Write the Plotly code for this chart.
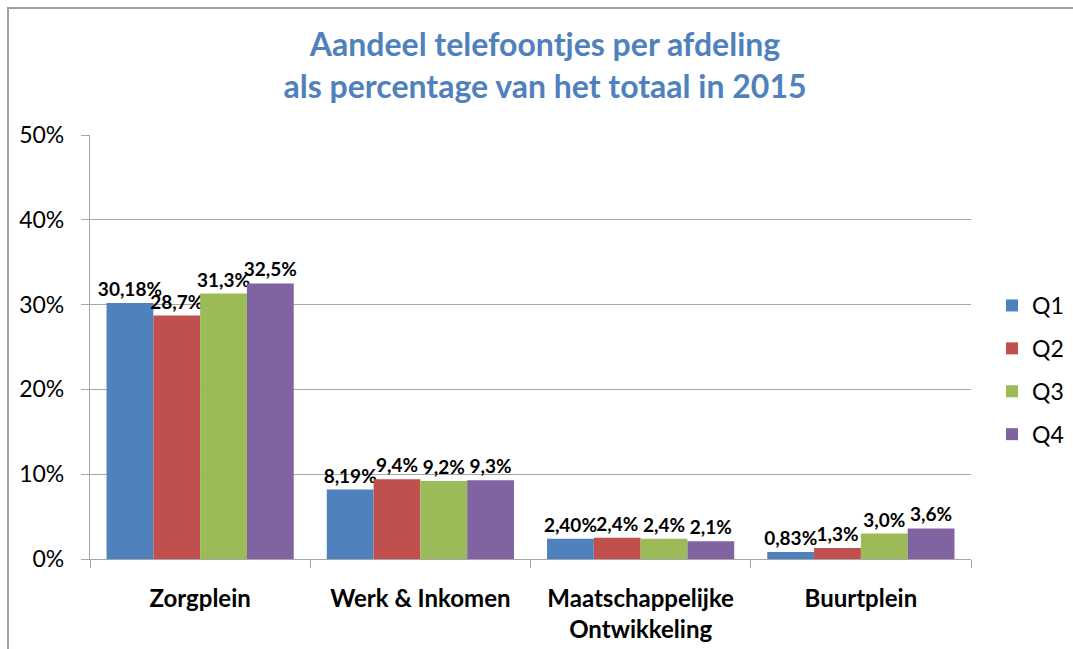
import plotly.graph_objects as go

categories = ["Zorgplein", "Werk & Inkomen", "Maatschappelijke<br>Ontwikkeling", "Buurtplein"]
series_names = ["Q1", "Q2", "Q3", "Q4"]
q1 = [30.18, 8.19, 2.40, 0.83]
q2 = [28.7, 9.4, 2.5, 1.3]
q3 = [31.3, 9.2, 2.4, 3.0]
q4 = [32.5, 9.3, 2.1, 3.6]
q1_labels = ["30,18%", "8,19%", "2,40%", "0,83%"]
q2_labels = ["28,7%", "9,4%", "2,4%", "1,3%"]
q3_labels = ["31,3%", "9,2%", "2,4%", "3,0%"]
q4_labels = ["32,5%", "9,3%", "2,1%", "3,6%"]
y_ticks = [0, 10, 20, 30, 40, 50]
y_tick_labels = ["0%", "10%", "20%", "30%", "40%", "50%"]

colors = ["#4F81BD", "#C0504D", "#9BBB59", "#8064A2"]
values = [q1, q2, q3, q4]
labels = [q1_labels, q2_labels, q3_labels, q4_labels]

FONT = "Lato, 'Open Sans', sans-serif"
W, H = 1073, 649
ML, MR, MT, MB = 90, 102, 135, 90
PW, PH = W - ML - MR, H - MT - MB

fig = go.Figure()
for name, vals, lab, col in zip(series_names, values, labels, colors):
    fig.add_trace(go.Bar(
        name=name, x=categories, y=vals, text=lab,
        textposition="outside", constraintext="none", cliponaxis=False,
        textfont=dict(family=FONT, size=19, color="black", weight="bold"),
        marker=dict(color=col, line=dict(width=0)),
        legendgroup=name,
    ))

# frame around chart (top-left visible, continues beyond right/bottom)
fig.add_shape(type="rect", xref="paper", yref="paper",
              x0=(8 - ML) / PW, x1=(W + 10 - ML) / PW,
              y0=-(MB + 10) / PH, y1=(H - MB - 8) / PH,
              line=dict(color="#A0A0A0", width=2), fillcolor="rgba(0,0,0,0)", layer="below")

fig.update_layout(
    width=W, height=H,
    margin=dict(l=ML, r=MR, t=MT, b=MB, autoexpand=False),
    paper_bgcolor="white", plot_bgcolor="white",
    barmode="group", bargap=0.15, bargroupgap=0,
    title=dict(text="Aandeel telefoontjes per afdeling<br>als percentage van het totaal in 2015",
               x=(545 - ML) / PW, xref="paper", xanchor="center",
               y=1 - 56 / H, yanchor="middle",
               font=dict(family=FONT, size=32, color="#4F81BD", weight="bold")),
    legend=dict(x=(992 - ML) / PW, xanchor="left", y=(H - MB - 370) / PH, yanchor="middle",
                font=dict(family=FONT, size=23, color="black"),
                traceorder="grouped", tracegroupgap=10, itemwidth=30,
                bgcolor="rgba(0,0,0,0)"),
    showlegend=True,
)
fig.update_yaxes(range=[0, 50], tickvals=y_ticks, ticktext=y_tick_labels,
                 showgrid=True, gridcolor="#A6A6A6", gridwidth=1.3,
                 showline=True, linecolor="#A6A6A6", linewidth=1.3,
                 ticks="outside", ticklen=8, tickcolor="#A6A6A6",
                 ticklabelstandoff=12,
                 tickfont=dict(family=FONT, size=23, color="black"),
                 zeroline=False)
fig.update_xaxes(showline=True, linecolor="#A6A6A6", linewidth=1.3,
                 ticks="outside", ticklen=8, tickcolor="#A6A6A6", tickson="boundaries",
                 ticklabelstandoff=18,
                 tickfont=dict(family=FONT, size=24, color="black", weight="bold"))

fig.write_html("out.html", config={"displayModeBar": False},
               post_script="document.body.style.margin='0';document.body.style.overflow='hidden';")
